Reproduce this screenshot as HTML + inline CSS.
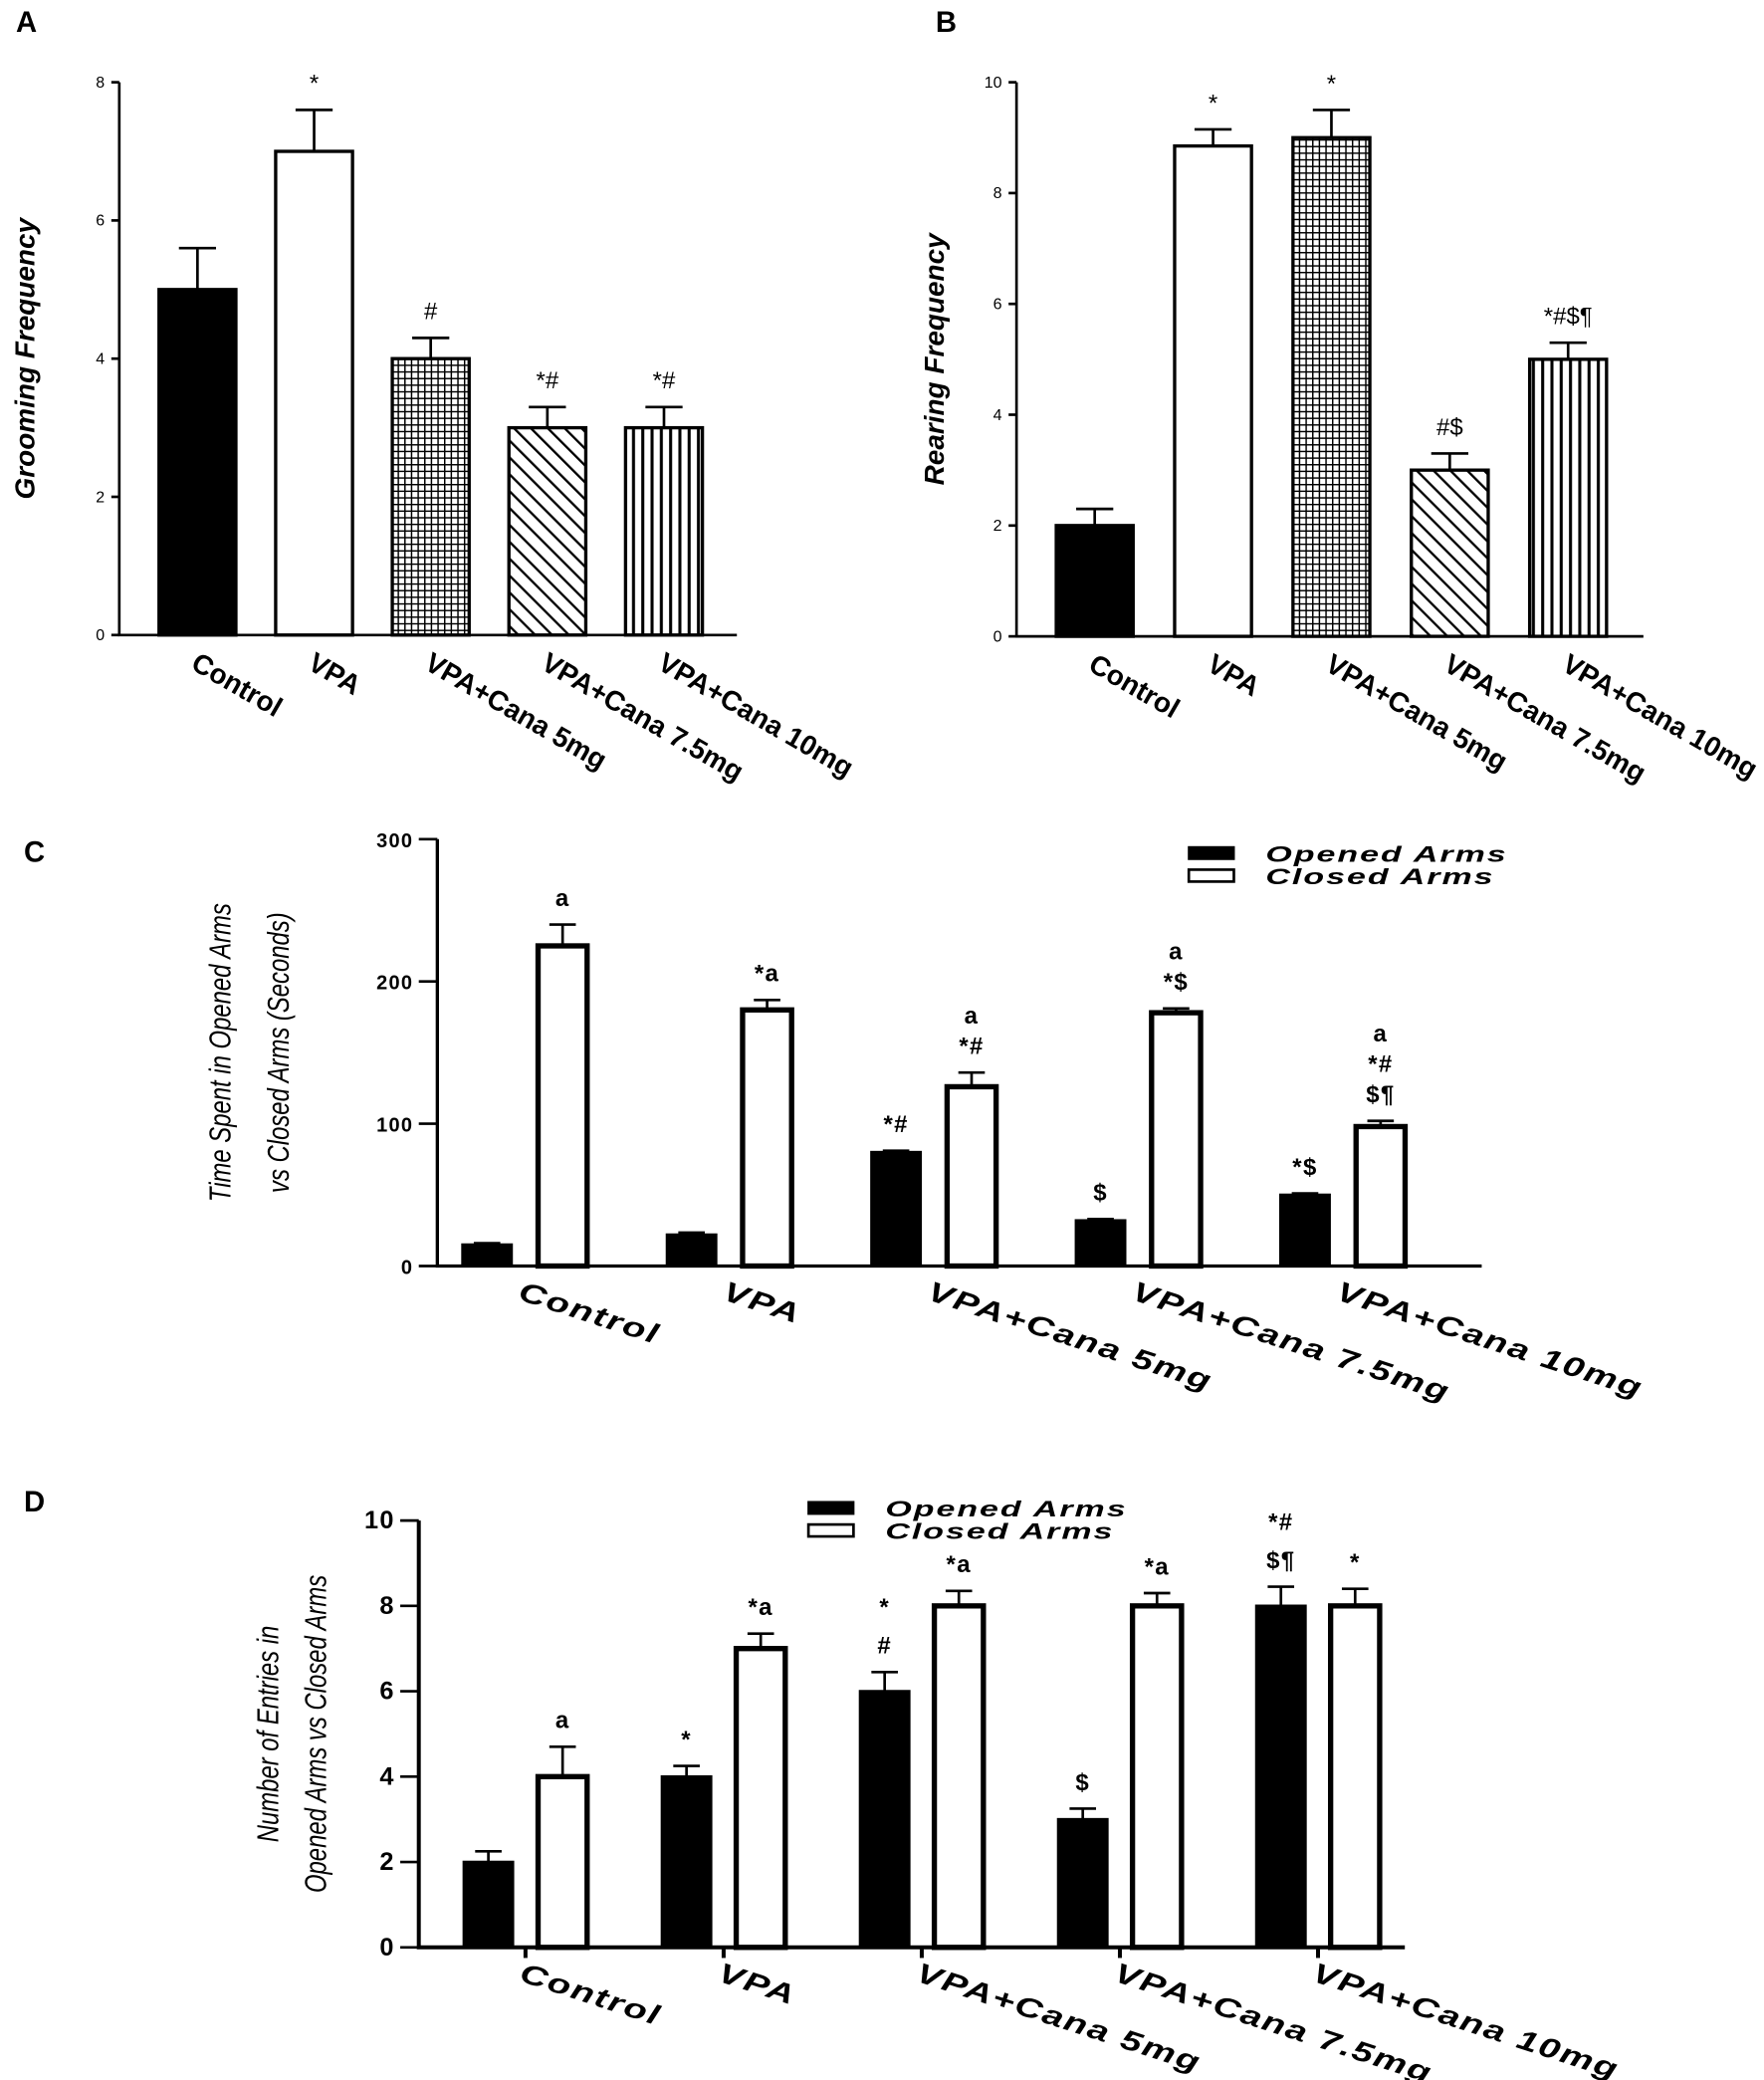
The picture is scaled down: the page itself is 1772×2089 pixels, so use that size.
<!DOCTYPE html>
<html><head><meta charset="utf-8"><style>html,body{margin:0;padding:0;background:#fff}svg{display:block}
text{font-family:"Liberation Sans",Arial,sans-serif;fill:#000}</style></head>
<body>
<svg id="fig" width="1772" height="2089" viewBox="0 0 1331 1569" xmlns="http://www.w3.org/2000/svg">
<defs>
<pattern id="pGrid" width="5" height="5" patternUnits="userSpaceOnUse"><rect width="5" height="5" fill="#fff"/><path d="M0 0H5M0 0V5" stroke="#000" stroke-width="2.2"/></pattern>
<pattern id="pDiag" width="9" height="9" patternUnits="userSpaceOnUse" patternTransform="rotate(-45)"><rect width="9" height="9" fill="#fff"/><path d="M0 0V9" stroke="#000" stroke-width="3.5"/></pattern>
<pattern id="pVert" width="7" height="7" patternUnits="userSpaceOnUse"><rect width="7" height="7" fill="#fff"/><path d="M2 0V7" stroke="#000" stroke-width="2.3"/></pattern>
</defs>
<g id="root"></g>
</svg>
<script>
const groups=["Control","VPA","VPA+Cana 5mg","VPA+Cana 7.5mg","VPA+Cana 10mg"];
const groomVals=[5,7,4,3,3];
const groomErr=[0.6,0.6,0.3,0.3,0.3];
const groomAnn=[[""],["*"],["#"],["*#"],["*#"]];
const rearVals=[2,8.85,9,3,5];
const rearErr=[0.3,0.3,0.5,0.3,0.3];
const rearAnn=[[""],["*"],["*"],["#$"],["*#$¶"]];
const timeOpen=[15,22,80,32,50];
const timeOpenErr=[1,1.5,1,1,1];
const timeClosed=[225,180,126,178,98];
const timeClosedErr=[15,7,10,3,4];
const timeOpenAnn=[[],[],["*#"],["$"],["*$"]];
const timeClosedAnn=[["a"],["*a"],["a","*#"],["a","*$"],["a","*#","$¶"]];
const entOpen=[2,4,6,3,8];
const entOpenErr=[0.25,0.25,0.45,0.25,0.45];
const entClosed=[4,7,8,8,8];
const entClosedErr=[0.7,0.35,0.35,0.3,0.4];
const entOpenAnn=[[],["*"],["*","#"],["$"],["*#","$¶"]];
const entClosedAnn=[["a"],["*a"],["*a"],["*a"],["*"]];
const abTicks=[0,2,4,6,8];
const bTicks=[0,2,4,6,8,10];
const cTicks=[0,100,200,300];
const dTicks=[0,2,4,6,8,10];

const NS="http://www.w3.org/2000/svg";
const root=document.getElementById('root');
function el(tag,attrs,parent,txt){const e=document.createElementNS(NS,tag);for(const k in attrs)e.setAttribute(k,attrs[k]);if(txt!==undefined)e.textContent=txt;(parent||root).appendChild(e);return e;}

function panelLetter(x,y,t){const e=el('text',{x:x,y:y,'font-size':22,'font-weight':'bold'},root,t);

}
panelLetter(12,24,"A");panelLetter(706,24,"B");panelLetter(18,650,"C");panelLetter(18,1140,"D");

function errBar(g,cx,yTop,yErr,hw){
  const e=el('path',{d:`M${cx} ${yTop}V${yErr}M${cx-hw} ${yErr}H${cx+hw}`,stroke:'#000','stroke-width':2,fill:'none'},g);
  
  
}
function annot(g,cx,yBase,lines,fs,lh,bold,ls){
  for(let k=0;k<lines.length;k++){
    const t=el('text',{x:cx,y:yBase-(lines.length-1-k)*lh,'font-size':fs,'text-anchor':'middle','font-weight':bold?'bold':'normal','letter-spacing':ls||0},g,lines[k]);
    
    
  }
}

function singlePanel(o){
  const g=el('g',{});
  
  
  const y=v=>o.y0-(v/o.max)*(o.y0-o.yTop);
  const ax=el('path',{d:`M${o.ax} ${o.yTop}V${o.y0}H${o.xEnd}`,stroke:'#000','stroke-width':2,fill:'none'},g);
  
  
  o.ticks.forEach(t=>{
    el('path',{d:`M${o.ax-6} ${y(t)}H${o.ax}`,stroke:'#000','stroke-width':2},g);
    const tl=el('text',{x:o.ax-11,y:y(t)+4,'font-size':12,'text-anchor':'end'},g,String(t));
    
    
  });
  const fills=['#000','#fff','url(#pGrid)','url(#pDiag)','url(#pVert)'];
  o.vals.forEach((v,i)=>{
    const x=o.x0+i*o.step, cx=x+o.w/2;
    const r=el('rect',{x:x,y:y(v),width:o.w,height:o.y0-y(v),fill:fills[i],stroke:'#000','stroke-width':2.5},g);
    
    
    errBar(g,cx,y(v),y(v+o.err[i]),14);
    annot(g,cx,y(v+o.err[i])-14,o.ann[i],18,18,false,0);
    const lb=el('text',{x:0,y:0,'font-size':21,'font-weight':'bold',transform:`translate(${cx-6},${o.y0+25}) rotate(30)`},g,groups[i]);
    
    
  });
  const yl=el('text',{x:0,y:0,'font-size':21,'font-weight':'bold','font-style':'italic','text-anchor':'middle',transform:`translate(${o.ylx},${(o.yTop+o.y0)/2}) rotate(-90)`},g,o.ylabel);
  
  
}
singlePanel({name:'grooming-chart',ax:90,yTop:62,y0:479,xEnd:556,max:8,ticks:abTicks,x0:120,step:88,w:58,vals:groomVals,err:groomErr,ann:groomAnn,ylabel:'Grooming Frequency',ylx:26});
singlePanel({name:'rearing-chart',ax:767,yTop:62,y0:480,xEnd:1240,max:10,ticks:bTicks,x0:797,step:89.3,w:58,vals:rearVals,err:rearErr,ann:rearAnn,ylabel:'Rearing Frequency',ylx:712});

function pairPanel(o){
  const g=el('g',{});
  
  
  const y=v=>o.y0-(v/o.max)*(o.y0-o.yTop);
  const ax=el('path',{d:`M${o.ax} ${o.yTop}V${o.y0}H${o.xEnd}`,stroke:'#000','stroke-width':o.axw,fill:'none'},g);
  
  
  o.ticks.forEach(t=>{
    el('path',{d:`M${o.ax-14} ${y(t)}H${o.ax}`,stroke:'#000','stroke-width':2},g);
    const tl=el('text',{x:o.ax-18,y:y(t)+6,'font-size':o.tfs,'font-weight':'bold','text-anchor':'end','letter-spacing':1},g,String(t));
    
    
  });
  o.open.forEach((v,i)=>{
    const xo=o.x0+i*o.step, xc=xo+o.gap;
    if(o.xticks) el('path',{d:`M${(xo+xc+o.w)/2} ${o.y0}V${o.y0+8}`,stroke:'#000','stroke-width':3},g);
    const r1=el('rect',{x:xo,y:y(v),width:o.w,height:o.y0-y(v),fill:'#000',stroke:'#000','stroke-width':2},g);
    
    
    errBar(g,xo+o.w/2,y(v),y(v+o.openErr[i]),10);
    annot(g,xo+o.w/2,y(v+o.openErr[i])-o.aoff,o.openAnn[i],18,o.lh,true,1);
    const c=o.closed[i];
    const r2=el('rect',{x:xc,y:y(c),width:o.w,height:o.y0-y(c),fill:'#fff',stroke:'#000','stroke-width':4},g);
    
    
    errBar(g,xc+o.w/2,y(c),y(c+o.closedErr[i]),10);
    annot(g,xc+o.w/2,y(c+o.closedErr[i])-o.aoff,o.closedAnn[i],18,o.lh,true,1);
    const lb=el('text',{x:0,y:0,'font-size':21,'font-weight':'bold','font-style':'italic','letter-spacing':1,transform:`translate(${xo+o.w+4},${o.y0+25}) rotate(18) scale(1.35,1)`},g,groups[i]);
    
    
  });
  const lg=el('g',{},g);
  
  
  el('rect',{x:o.lx,y:o.ly,width:34,height:9,fill:'#000',stroke:'#000','stroke-width':1.5},lg);
  el('text',{x:0,y:0,'font-size':17,'font-weight':'bold','font-style':'italic','letter-spacing':1,transform:`translate(${o.lx+58},${o.ly+11}) scale(1.5,1)`},lg,'Opened Arms');
  el('rect',{x:o.lx,y:o.ly+17,width:34,height:9,fill:'#fff',stroke:'#000','stroke-width':2},lg);
  el('text',{x:0,y:0,'font-size':17,'font-weight':'bold','font-style':'italic','letter-spacing':1,transform:`translate(${o.lx+58},${o.ly+28}) scale(1.5,1)`},lg,'Closed Arms');
  const yc=(o.yTop+o.y0)/2;
  o.ylines.forEach((t,k)=>{
    const yl=el('text',{x:0,y:0,'font-size':23,'font-style':'italic','text-anchor':'middle',transform:`translate(${o.ylx+k*o.ylgap},${yc}) rotate(-90) scale(0.78,1)`},g,t);
    
    
  });
}
pairPanel({name:'time-spent-chart',ax:330,yTop:633,y0:955,xEnd:1118,max:300,ticks:cTicks,tfs:15,axw:2.5,x0:349,step:154.3,gap:57,w:37,open:timeOpen,openErr:timeOpenErr,closed:timeClosed,closedErr:timeClosedErr,openAnn:timeOpenAnn,closedAnn:timeClosedAnn,aoff:14,lh:23,xticks:false,lx:897,ly:639,ylines:['Time Spent in Opened Arms','vs Closed Arms (Seconds)'],ylx:174,ylgap:44});
pairPanel({name:'entries-chart',ax:316,yTop:1147,y0:1469,xEnd:1060,max:10,ticks:dTicks,tfs:19,axw:3,x0:350,step:149.5,gap:56,w:37,open:entOpen,openErr:entOpenErr,closed:entClosed,closedErr:entClosedErr,openAnn:entOpenAnn,closedAnn:entClosedAnn,aoff:14,lh:29,xticks:true,lx:610,ly:1133,ylines:['Number of Entries in','Opened Arms vs Closed Arms'],ylx:210,ylgap:36});
</script>
</body></html>
